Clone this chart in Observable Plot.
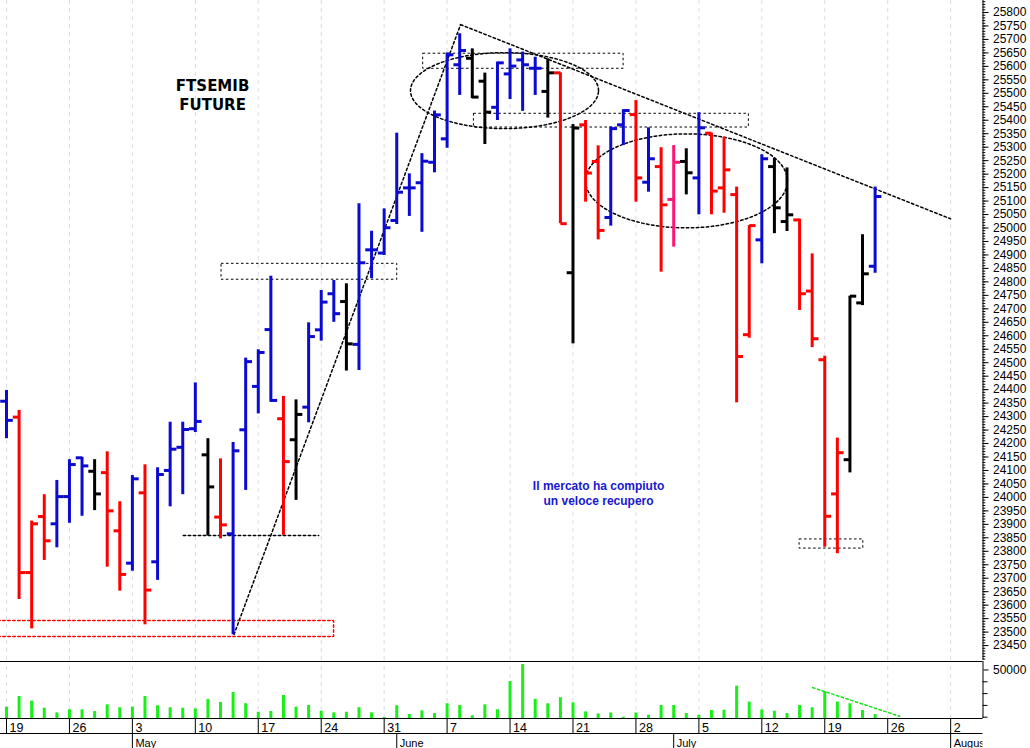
<!DOCTYPE html>
<html><head><meta charset="utf-8">
<script src="https://cdn.jsdelivr.net/npm/d3@7"></script>
<script src="https://cdn.jsdelivr.net/npm/@observablehq/plot@0.6"></script>
<style>
body{margin:0;background:#fff;}
#chart{width:1030px;height:748px;overflow:hidden;position:relative;background:#fff;}
#chart svg{display:block;}
</style></head><body><div id="chart"></div>
<script>
// ---- data (trading-day index 0 = Mon 19 Apr 2021) ----
const opens  = [24357,24298,23721,23929,23902,24003,24147,24097,24092,23876,23756,24017,23761,24100,24186,24255,24158,23927,23865,24251,24412,24623,24292,24214,24335,24622,24756,24727,24568,24919,24907,25028,25149,25168,25244,25331,25606,25630,25545,25448,25572,25624,25593,25507,25576,24834,25383,25247,25039,25383,25421,25170,25228,25106,25247,25186,25352,25149,25124,24604,24956,25228,25024,25030,24766,24511,24013,24140,24722,24858];
const highs  = [24397,24323,23912,24010,24063,24140,24149,24140,24169,23984,24081,24121,24110,24279,24279,24425,24218,24143,24204,24517,24548,24821,24375,24362,24648,24768,24805,24793,25090,24988,25071,25352,25201,25276,25434,25650,25721,25665,25575,25616,25665,25653,25634,25628,25576,25384,25399,25305,25375,25439,25473,25372,25298,25306,25294,25428,25352,25337,25152,25009,25272,25259,25223,25033,24904,24524,24220,24747,24975,25152];
const lows   = [24218,23621,23512,23766,23813,23904,23930,23951,23741,23652,23726,23527,23692,23965,24010,24241,23857,23846,23490,24026,24310,24353,23859,23989,24277,24580,24650,24469,24471,24812,24898,25013,25043,24984,25205,25296,25492,25480,25310,25399,25477,25433,25492,25408,25016,24570,25096,24956,25007,25306,25096,25133,24836,24929,25123,25049,25049,25055,24351,24591,24867,24979,24987,24694,24556,23815,23791,24091,24712,24832];
const closes = [24286,23721,23902,23839,24003,24122,24117,24013,23950,23714,24069,23656,24085,24179,24252,24282,24039,23898,24173,24504,24538,24360,24133,24308,24597,24725,24682,24570,24871,24919,25001,25133,25149,25248,25420,25643,25659,25486,25430,25613,25601,25606,25593,25576,25016,25371,25204,24991,25369,25436,25186,25257,25086,25244,25205,25372,25137,25216,24523,25009,25257,25075,25049,24756,24589,23930,24166,24747,24830,25117];
const barColors = ["B","R","R","R","B","B","B","K","R","R","B","R","B","B","B","B","K","R","B","B","B","B","R","K","B","B","B","K","B","B","B","B","B","B","B","B","B","K","K","B","B","B","B","K","R","K","R","R","B","B","R","B","R","P","K","B","R","R","R","R","B","K","K","R","R","R","R","K","K","B"];
const volumes = [18500,27500,23600,17600,13700,16300,16300,14800,20500,18000,18500,27500,19700,18000,17600,17100,25000,22500,30900,21400,14200,14800,28400,18500,19900,15100,13700,14200,18000,13700,9700,19700,12300,15400,13100,21400,19900,11200,20500,16300,40200,54600,25100,21400,26500,22200,14500,12800,13600,9900,13600,11600,19900,19900,13100,11600,15700,15900,36300,22800,16200,15100,13100,19900,18000,31400,22800,21400,15700,12200];

const mondayIdx = [0,5,10,15,20,25,30,35,40,45,50,55,60,65,70,75];
const dayLabels = ["19","26","3","10","17","24","31","7","14","21","28","5","12","19","26","2"];
const monthIdx = [10,31,53,75];
const monthLabels = ["May","June","July","August"];
const priceTicks = d3.range(23450, 25801, 50);
const priceMinor = d3.range(23400, 25841, 10);
const volTicks = [50000];
const volMinor = [10000,20000,30000,40000];

// annotations (data coordinates)
const boxes = [
  {x1: 17.08, x2: 31.04, y1: 24808, y2: 24867},
  {x1: 33.10, x2: 49.02, y1: 25591, y2: 25647},
  {x1: 37.13, x2: 58.97, y1: 25373, y2: 25424},
  {x1: 63.00, x2: 68.06, y1: 23810, y2: 23844}
];
const redBox = [{x:-0.7,y:23543},{x:25.98,y:23543},{x:25.98,y:23484},{x:-0.7,y:23484}];
const supportLine = [{x:14.04,y:23859},{x:24.8,y:23859}];
const riseLine = [{x:18.07,y:23491},{x:36.07,y:25755}];
const resistLine = [{x:36.07,y:25755},{x:75.0,y:25034}];
const ellipses = [
  {cx: 39.56, cy: 25510, rx: 7.47, ry: 141},
  {cx: 54.02, cy: 25175, rx: 8.02, ry: 174.5}
];
const volTrend = [{x:64.03,y:35100},{x:70.95,y:10760}];
const titleText = [{x:16.37,y:25508,t:"FTSEMIB"},{x:16.37,y:25439,t:"FUTURE"}];
const noteText = [{x:47.03,y:24028,t:"Il mercato ha compiuto"},{x:47.03,y:23973,t:"un veloce recupero"}];

// ---- build ----
const XMIN = -0.477, XMAX = 77.57;
const W = 1030, MR = 47.5;
const bars = opens.map((o,i)=>({i, o, h: highs[i], l: lows[i], c: closes[i], col: barColors[i]}));
const vols = volumes.map((v,i)=>({i, v}));
const ellPts = ellipses.map(e => d3.range(0, 361, 4).map(a => ({
  x: e.cx + e.rx*Math.cos(a*Math.PI/180), y: e.cy + e.ry*Math.sin(a*Math.PI/180)})));
const dash = "2.5,2.5";
const gridStroke = "#dcdce8";
const font = "Liberation Sans, Arial, sans-serif";
const baseStyle = {fontFamily: font, fontSize: "12px", color: "#000", background: "transparent", overflow: "visible"};

const PMIN = 23394.6, PMAX = 25844.5;
const main = Plot.plot({
  width: W, height: 661, marginLeft: 0, marginRight: MR, marginTop: 0, marginBottom: 1,
  style: baseStyle,
  x: {domain: [XMIN, XMAX], axis: null},
  y: {domain: [PMIN, PMAX], axis: "right", ticks: priceTicks, tickFormat: d => String(d), tickSize: 5, tickPadding: 5, label: null},
  color: {domain: ["B","R","K","P"], range: ["#0a0ad0","#ff0000","#000000","#ff1478"]},
  marks: [
    Plot.ruleX(mondayIdx, {x: d => d, y1: PMIN, y2: PMAX, stroke: gridStroke, strokeDasharray: "4,4"}),
    Plot.ruleX([XMAX], {y1: PMIN, y2: PMAX, stroke: "#000"}),
    Plot.ruleY(priceMinor, {y: d => d, x1: XMAX, x2: XMAX + 0.22, stroke: "#000"}),
    // annotations
    Plot.rect(boxes, {x1: "x1", x2: "x2", y1: "y1", y2: "y2", fill: "none", stroke: "#000", strokeDasharray: dash}),
    Plot.line(redBox, {x: "x", y: "y", stroke: "#ff0000", strokeDasharray: dash}),
    Plot.line(supportLine, {x: "x", y: "y", stroke: "#000", strokeDasharray: dash}),
    Plot.line(riseLine, {x: "x", y: "y", stroke: "#000", strokeDasharray: dash}),
    Plot.line(resistLine, {x: "x", y: "y", stroke: "#000", strokeDasharray: dash}),
    ...ellPts.map(p => Plot.line(p, {x: "x", y: "y", stroke: "#000", strokeDasharray: dash})),
    // OHLC bars
    Plot.ruleX(bars, {x: "i", y1: "l", y2: "h", stroke: "col", strokeWidth: 3}),
    Plot.link(bars, {x1: d => d.i - 0.5, x2: d => d.i, y1: "o", y2: "o", stroke: "col", strokeWidth: 3}),
    Plot.link(bars, {x1: d => d.i, x2: d => d.i + 0.5, y1: "c", y2: "c", stroke: "col", strokeWidth: 3}),
    // texts
    Plot.text(titleText, {x: "x", y: "y", text: "t", fontFamily: "DejaVu Sans, sans-serif", fontWeight: "bold", fontSize: 15, lineAnchor: "bottom", fill: "#000"}),
    Plot.text(noteText, {x: "x", y: "y", text: "t", fontFamily: font, fontWeight: "bold", fontSize: 12, lineAnchor: "bottom", fill: "#1818d0"})
  ]
});

const VMIN = 8898, VMAX = 57203;
const vol = Plot.plot({
  width: W, height: 57, marginLeft: 0, marginRight: MR, marginTop: 0, marginBottom: 0,
  style: baseStyle,
  x: {domain: [XMIN, XMAX], axis: null},
  y: {domain: [VMIN, VMAX], axis: "right", ticks: volTicks, tickFormat: d => String(d), tickSize: 5, tickPadding: 5, label: null},
  marks: [
    Plot.ruleX(mondayIdx, {x: d => d, y1: VMIN, y2: VMAX, stroke: gridStroke, strokeDasharray: "4,4"}),
    Plot.ruleX(vols, {x: "i", y1: VMIN, y2: "v", stroke: "#18f018", strokeWidth: 3}),
    Plot.line(volTrend, {x: "x", y: "y", stroke: "#18e018", strokeDasharray: dash}),
    Plot.ruleY([VMAX, VMIN], {x1: XMIN, x2: XMAX, stroke: "#000"}),
    Plot.ruleX([XMAX], {y1: VMIN, y2: VMAX, stroke: "#000"}),
    Plot.ruleY(volMinor, {y: d => d, x1: XMAX, x2: XMAX + 0.4, stroke: "#000"})
  ]
});

const days = mondayIdx.map((x,k)=>({x, t: dayLabels[k]}));
const months = monthIdx.map((x,k)=>({x, t: monthLabels[k]}));
const dates = Plot.plot({
  width: W, height: 30, marginLeft: 0, marginRight: MR, marginTop: 0, marginBottom: 0,
  style: baseStyle,
  x: {domain: [XMIN, XMAX], axis: null},
  y: {domain: [0, 30], range: [0, 30], axis: null},
  marks: [
    Plot.ruleX(mondayIdx, {x: d => d, y1: 0, y2: 15, stroke: "#000"}),
    Plot.text(days, {x: "x", y: 13.5, text: "t", dx: 3, textAnchor: "start", lineAnchor: "bottom", fontSize: 12.5, fill: "#000"}),
    Plot.ruleY([15], {x1: XMIN, x2: XMAX, stroke: "#000"}),
    Plot.ruleX(monthIdx, {x: d => d, y1: 15, y2: 30, stroke: "#000"}),
    Plot.text(months, {x: "x", y: 28, text: "t", dx: 3, textAnchor: "start", lineAnchor: "bottom", fontSize: 11, fill: "#000", clip: true})
  ]
});

const root = document.getElementById("chart");
root.append(main, vol, dates);
</script>
</body></html>
